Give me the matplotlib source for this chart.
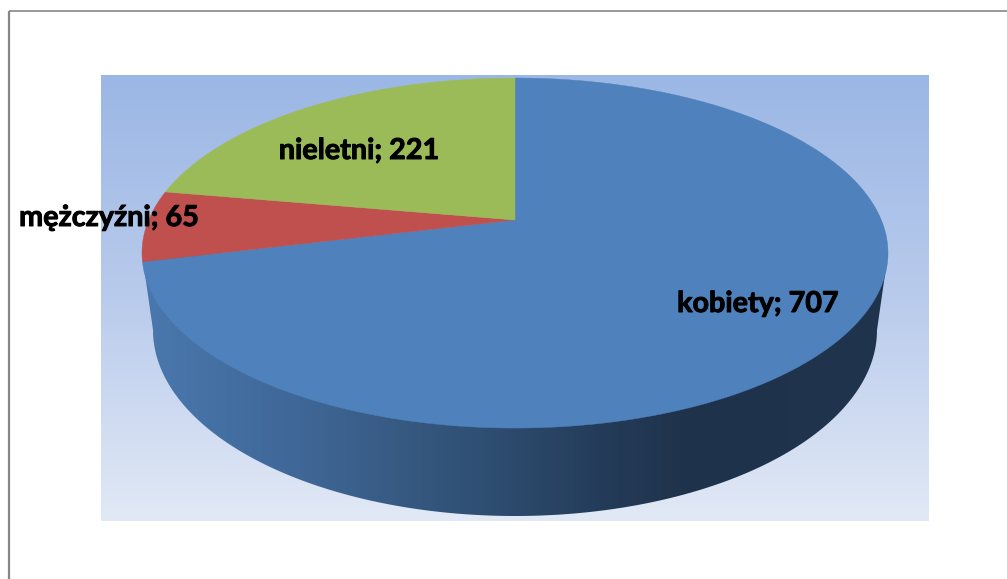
import numpy as np
import matplotlib
matplotlib.use("Agg")
import matplotlib.pyplot as plt
import matplotlib.patheffects as pe
from matplotlib.colors import LinearSegmentedColormap
from matplotlib.patches import Polygon

categories = ["kobiety", "mężczyźni", "nieletni"]
values = [707, 65, 221]
slice_colors = ["#4f81bd", "#c0504d", "#9bbb59"]
label_centers = [(758, 304), (109, 218), (359, 151)]

W, H = 1007, 579
fig = plt.figure(figsize=(W / 100, H / 100), dpi=100, facecolor="white")
ax = fig.add_axes([0, 0, 1, 1])
ax.set_xlim(0, W)
ax.set_ylim(H, 0)
ax.axis("off")

# outer frame (left and top only visible)
ax.plot([9, 9], [H, 10.5], color="#868686", lw=1.6, solid_capstyle="butt", zorder=1)
ax.plot([9, W], [10.5, 10.5], color="#868686", lw=1.2, solid_capstyle="butt", zorder=1)

# plot-area gradient
bg_cmap = LinearSegmentedColormap.from_list("bg", ["#9bb7e5", "#b9cbec", "#e2e9f6"])
ax.imshow(np.linspace(0, 1, 256)[:, None], extent=(101, 929, 521, 75), cmap=bg_cmap,
          aspect="auto", zorder=2, interpolation="bilinear")

# perspective of the pie's top face: unit circle -> screen
CX, CY = 515, 220
A, B, K = 366.3, 168.8, 0.1887


def project(theta):
    """theta: radians clockwise from the top."""
    u, v = np.sin(theta), np.cos(theta)
    w = 1 + K * v
    return CX + A * u / w, CY - B * v / w


# side wall
full = np.linspace(0, 2 * np.pi, 721)
tx, ty = project(full)
BOT_CX, BOT_CY, BOT_RX, BOT_RY = 515, 330, 362, 186
phi = np.linspace(0, np.pi, 361)
bx = BOT_CX + BOT_RX * np.cos(phi)
by = BOT_CY + BOT_RY * np.sin(phi)
left_i, right_i = np.argmin(tx), np.argmax(tx)
side_pts = np.column_stack([
    np.r_[tx[right_i], bx, tx[left_i]],
    np.r_[ty[right_i], by, ty[left_i]],
])
side = Polygon(side_pts, closed=True, facecolor="none", edgecolor="none",
               transform=ax.transData)
ax.add_patch(side)
side_cmap = LinearSegmentedColormap.from_list("side", [
    (0.0, "#4a78ae"), (0.21, "#3f6797"), (0.345, "#375a82"), (0.48, "#2d4c6f"),
    (0.613, "#243c5a"), (0.734, "#1f324b"), (1.0, "#1f344d"),
])
grad = ax.imshow(np.linspace(0, 1, 512)[None, :], extent=(142, 889, 530, 240), cmap=side_cmap,
                 aspect="auto", zorder=3, interpolation="bilinear")
grad.set_clip_path(side)

# top face wedges, clockwise from 12 o'clock
edges = np.r_[0, np.cumsum(values)] / np.sum(values) * 2 * np.pi
for i, color in enumerate(slice_colors):
    th = np.linspace(edges[i], edges[i + 1], 300)
    x, y = project(th)
    ax.add_patch(Polygon(np.column_stack([np.r_[CX, x], np.r_[CY, y]]), closed=True,
                         facecolor=color, edgecolor=color, lw=0.3, zorder=4))

# labels
for cat, val, (lx, ly) in zip(categories, values, label_centers):
    ax.text(lx, ly, f"{cat}; {val}", ha="center", va="center", fontsize=20.7,
            fontweight="bold", family="Lato", color="black", zorder=5,
            path_effects=[pe.withStroke(linewidth=0.7, foreground="black")])

ax.set_xlim(0, W)
ax.set_ylim(H, 0)
fig.savefig("out.png", dpi=100, facecolor="white")
